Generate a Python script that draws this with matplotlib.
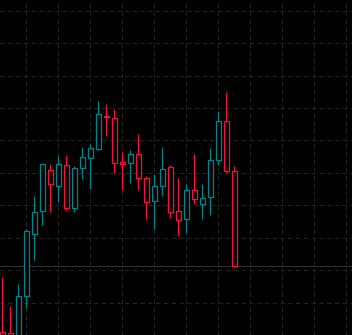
import matplotlib
matplotlib.use("Agg")
import matplotlib.pyplot as plt
from matplotlib.patches import Rectangle

# OHLC (arbitrary price units, grid every 10)
opens  = [1.0, 0.5, -2.0, 12.0, 31.1, 38.4, 50.8, 46.0, 52.3, 39.3,
          51.4, 54.5, 57.4, 67.7, 66.9, 53.5, 52.9, 55.7, 48.4, 41.4,
          46.0, 51.7, 38.4, 35.7, 44.8, 40.5, 42.6, 54.1, 66.0, 50.5]
highs  = [17.9, 8.9, 15.7, 32.6, 43.0, 53.0, 52.6, 55.1, 55.5, 52.0,
          57.9, 58.8, 72.2, 71.2, 69.7, 56.4, 57.0, 62.1, 49.0, 49.6,
          57.9, 52.3, 48.4, 46.5, 55.7, 46.6, 57.8, 69.1, 74.8, 52.0]
lows   = [-8.0, -9.0, -4.0, 8.3, 23.1, 34.0, 38.0, 41.0, 38.3, 38.0,
          48.0, 44.9, 57.1, 61.3, 50.1, 44.6, 46.8, 44.6, 35.5, 32.8,
          42.8, 36.2, 30.4, 31.6, 40.5, 35.7, 37.1, 52.5, 49.9, 21.2]
closes = [-5.0, -6.0, 12.0, 32.0, 37.8, 52.6, 46.6, 52.8, 39.3, 51.5,
          54.8, 57.8, 68.1, 67.1, 53.2, 52.6, 55.7, 48.4, 41.1, 46.0,
          51.1, 37.8, 35.4, 44.8, 42.0, 42.3, 54.1, 66.0, 50.5, 21.2]

UP = "#00858a"
DOWN = "#f0143c"
GRID = "#1f241f"

fig = plt.figure(figsize=(3.52, 3.35), dpi=100, facecolor="black")
ax = fig.add_axes([0, 0, 1, 1], facecolor="black")

lw = 0.9
half = 0.27
for i in range(len(opens)):
    o, h, l, c = opens[i], highs[i], lows[i], closes[i]
    col = UP if c >= o else DOWN
    ax.vlines(i, l, h, color=col, linewidth=lw, zorder=3)
    bot = min(o, c)
    height = abs(c - o)
    if height < 0.6:
        height = 0.6
    ax.add_patch(Rectangle((i - half, bot), 2 * half, height,
                           facecolor="black", edgecolor=col,
                           linewidth=lw, zorder=4))

# last price line
ax.axhline(closes[-1], color="#2e302e", linewidth=0.8, zorder=2)

ax.set_xlim(-0.3, 43.7)
ax.set_ylim(1.82, 103.33)
ax.set_xticks(range(3, 44, 4))
ax.set_yticks(range(0, 110, 10))
ax.grid(True, color=GRID, linestyle=(0, (4, 3)), linewidth=0.8, zorder=1)
ax.tick_params(left=False, bottom=False, labelleft=False, labelbottom=False)
for s in ax.spines.values():
    s.set_visible(False)

fig.savefig("out.png", dpi=100, facecolor="black")
